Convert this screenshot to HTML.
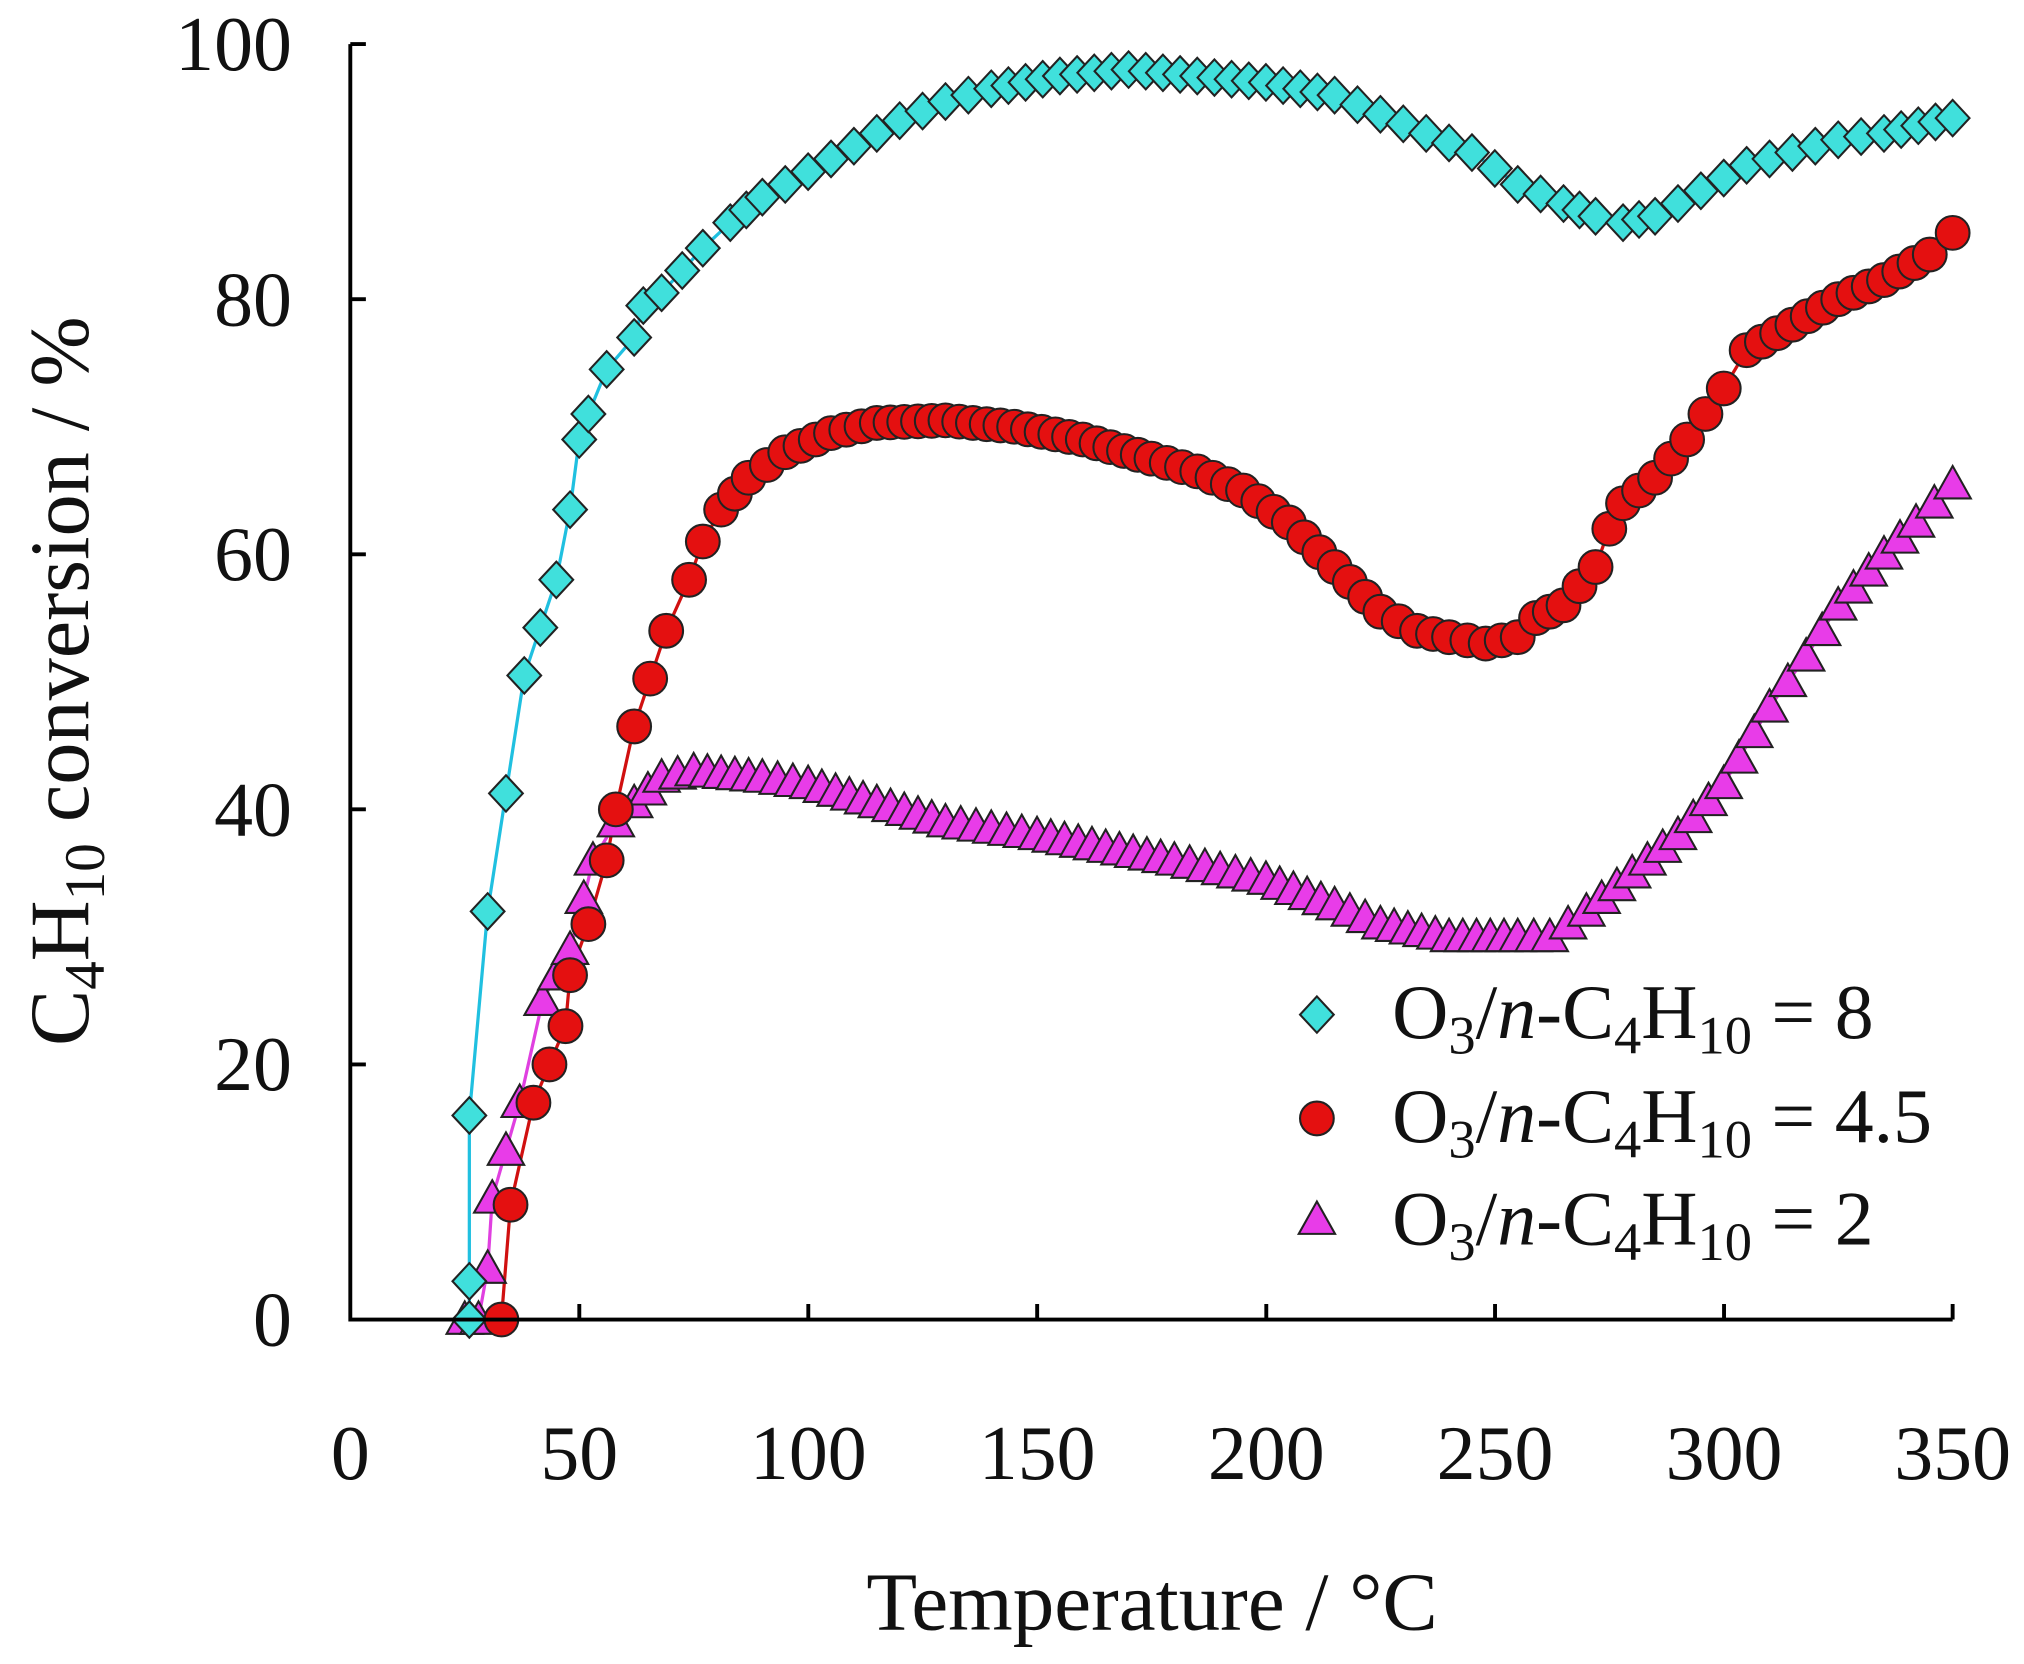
<!DOCTYPE html>
<html><head><meta charset="utf-8"><style>
html,body{margin:0;padding:0;background:#fff;}
svg{display:block;}
text{font-family:"Liberation Serif",serif;fill:#111;}
</style></head><body>
<svg id="s" width="2024" height="1664" viewBox="0 0 1560 1282.5" preserveAspectRatio="none" xmlns="http://www.w3.org/2000/svg">
<g id="lines"></g><g id="marks"></g>
<g stroke="#000" stroke-width="3" fill="none">
<path d="M270,34 V1017 H1505"/>
<path d="M270,34 h12 M270,230.6 h12 M270,427.2 h12 M270,623.8 h12 M270,820.4 h12"/>
<path d="M446.5,1017 v-12 M623,1017 v-12 M799.4,1017 v-12 M976,1017 v-12 M1152.3,1017 v-12 M1328.8,1017 v-12 M1505,1017 v-12"/>
</g>
<g font-size="60" text-anchor="end">
<text x="225" y="54">100</text><text x="225" y="251">80</text><text x="225" y="447">60</text>
<text x="225" y="644">40</text><text x="225" y="840">20</text><text x="225" y="1037">0</text>
</g>
<g font-size="60" text-anchor="middle">
<text x="270" y="1140">0</text><text x="446.5" y="1140">50</text><text x="623" y="1140">100</text>
<text x="799.4" y="1140">150</text><text x="976" y="1140">200</text><text x="1152.3" y="1140">250</text>
<text x="1328.8" y="1140">300</text><text x="1505" y="1140">350</text>
</g>
<text x="888" y="1256" font-size="64" text-anchor="middle">Temperature / °C</text>
<text transform="translate(68,525) rotate(-90)" font-size="65" text-anchor="middle">C<tspan font-size="44" dy="12">4</tspan><tspan dy="-12">H</tspan><tspan font-size="44" dy="12">10</tspan><tspan dy="-12"> conversion / %</tspan></text>
<g font-size="60">
<text x="1073" y="800">O<tspan font-size="42" dy="12">3</tspan><tspan dy="-12">/</tspan><tspan font-style="italic">n</tspan>-C<tspan font-size="42" dy="12">4</tspan><tspan dy="-12">H</tspan><tspan font-size="42" dy="12">10</tspan><tspan dy="-12"> = 8</tspan></text>
<text x="1073" y="880">O<tspan font-size="42" dy="12">3</tspan><tspan dy="-12">/</tspan><tspan font-style="italic">n</tspan>-C<tspan font-size="42" dy="12">4</tspan><tspan dy="-12">H</tspan><tspan font-size="42" dy="12">10</tspan><tspan dy="-12"> = 4.5</tspan></text>
<text x="1073" y="959">O<tspan font-size="42" dy="12">3</tspan><tspan dy="-12">/</tspan><tspan font-style="italic">n</tspan>-C<tspan font-size="42" dy="12">4</tspan><tspan dy="-12">H</tspan><tspan font-size="42" dy="12">10</tspan><tspan dy="-12"> = 2</tspan></text>
</g>
<g id="leg"></g>
</svg>
<script>
var NS="http://www.w3.org/2000/svg";
function X(t){return 270+t*3.5286;}function Y(v){return 1017-v*9.83;}
var cy=[[26,0],[26,3],[26,16],[30,32],[38,50.5],[45,58],[48,63.5],[50,69],[52,71],[56,74.5],[62,77],[64,79.5],[68,80.5],[77,84],[83,86],[90,88],[100,90],[110,92],[120,94],[130,95.5],[140,96.5],[155,97.5],[170,98],[185,97.5],[200,97],[215,96],[225,94.5],[235,93],[245,91.5],[255,89],[265,87.5],[272,86.5],[278,86],[285,86.5],[295,88.5],[305,90.5],[315,91.5],[325,92.5],[335,93],[350,94.2]];
var rd=[[33,0],[35,9],[40,17],[47,23],[48,27],[52,31],[56,36],[58,40],[62,46.5],[69,54],[74,58],[77,61],[81,63.5],[87,66],[95,68],[105,69.5],[115,70.3],[130,70.5],[145,70],[160,69],[175,67.5],[185,66.5],[195,65],[205,62.5],[215,59],[225,55.5],[233,54],[240,53.5],[248,53],[255,53.5],[259,55],[265,56],[272,59],[275,62],[278,64],[285,66],[292,69],[300,73],[305,76],[315,78],[325,80],[335,81.5],[345,83.5],[350,85.2]];
var mg=[[25,0],[28,0],[30,4],[31,9.5],[37,17],[42,25],[48,29],[51,33],[53,36],[58,39],[62,40.5],[68,42.5],[75,43],[90,42.5],[100,42],[115,40.5],[130,39],[150,38],[165,37],[180,36],[200,34.5],[215,32.5],[225,31],[240,30],[255,30],[262,30],[270,32],[280,35],[290,38],[300,42],[310,48],[318,52],[325,56],[335,60],[342,62.5],[350,65.5]];
function mk(tag,a,p){var e=document.createElementNS(NS,tag);for(var k in a)e.setAttribute(k,a[k]);p.appendChild(e);return e;}
var L=document.getElementById("lines"),M=document.getElementById("marks"),G=document.getElementById("leg");
function marker(type,x,y,fill,p){
 if(type=="d")mk("path",{d:"M"+x+","+(y-14)+" L"+(x+13)+","+y+" L"+x+","+(y+14)+" L"+(x-13)+","+y+"Z",fill:fill,stroke:"#222","stroke-width":1.6},p);
 else if(type=="c")mk("circle",{cx:x,cy:y,r:13,fill:fill,stroke:"#222","stroke-width":1.6},p);
 else mk("path",{d:"M"+x+","+(y-14)+" L"+(x+14)+","+(y+11)+" L"+(x-14)+","+(y+11)+"Z",fill:fill,stroke:"#222","stroke-width":1.6},p);
}
function series(d,col,type,fill,dt){
 var pts=d.map(function(q){return [X(q[0]),Y(q[1])];});
 mk("polyline",{points:pts.map(function(p){return p.join(",");}).join(" "),fill:"none",stroke:col,"stroke-width":2.5},L);
 for(var i=0;i<d.length;i++){
  marker(type,pts[i][0],pts[i][1],fill,M);
  if(i<d.length-1){var span=d[i+1][0]-d[i][0];var n=Math.floor(span/dt);
   for(var k=1;k<n;k++){var f=k/n;marker(type,pts[i][0]+(pts[i+1][0]-pts[i][0])*f,pts[i][1]+(pts[i+1][1]-pts[i][1])*f,fill,M);}}
 }
}
series(mg,"#e040e0","t","#e83ce8",3);
series(rd,"#d01010","c","#e41010",3);
series(cy,"#20c0e0","d","#40e0dc",3.5);
marker("d",1015,782,"#40e0dc",G);marker("c",1015,862,"#e41010",G);marker("t",1015,940,"#e83ce8",G);
</script>
</body></html>
